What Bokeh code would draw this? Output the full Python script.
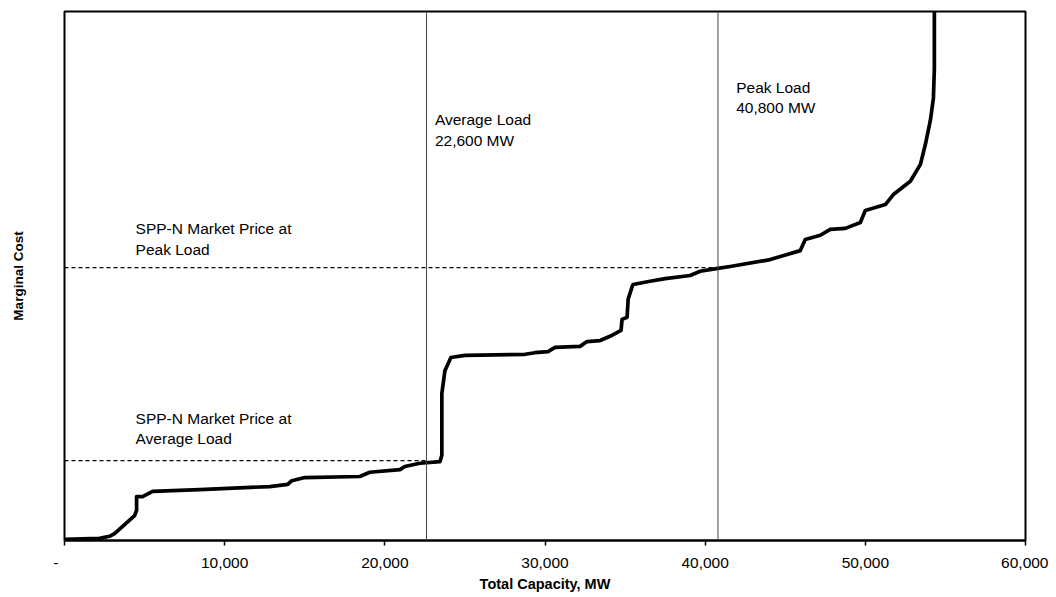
from bokeh.plotting import figure
from bokeh.models import Range1d, FixedTicker, Span, Label
from bokeh.embed import file_html
from bokeh.resources import INLINE

# Supply curve (Total capacity in MW vs marginal cost, arbitrary units 0-100)
capacity = [0, 2190, 2810, 3125, 3750, 4375, 4500, 4500, 4875, 5500, 8440, 12810,
            13940, 14190, 15000, 18440, 19060, 20940, 21250, 22190, 23440, 23560,
            23560, 23750, 24125, 25000, 28750, 29375, 30190, 30625, 32190, 32625,
            33440, 34060, 34375, 34750, 34810, 35125, 35190, 35440, 35500, 36560,
            37500, 39060, 39690, 40690, 41560, 44060, 45940, 46250, 47190, 47810,
            48750, 49690, 50000, 51250, 51750, 52810, 53440, 53750, 54060, 54250,
            54310, 54310]
marginal_cost = [0.2, 0.4, 0.8, 1.3, 3.0, 4.7, 5.7, 8.3, 8.3, 9.3, 9.6, 10.2,
                 10.6, 11.3, 11.9, 12.1, 12.9, 13.4, 14.0, 14.6, 14.9, 16.1,
                 27.8, 32.1, 34.6, 35.0, 35.2, 35.5, 35.7, 36.5, 36.7, 37.6,
                 37.8, 38.6, 39.1, 39.7, 41.8, 42.2, 45.6, 48.0, 48.4, 49.0,
                 49.5, 50.1, 50.9, 51.4, 51.8, 53.1, 54.8, 56.9, 57.7, 58.8,
                 59.0, 60.1, 62.4, 63.5, 65.4, 67.9, 71.1, 74.9, 79.4, 83.6,
                 89.2, 102.0]

average_load = 22600
peak_load = 40800
average_price = 15.1
peak_price = 51.6

x_ticks = [0, 10000, 20000, 30000, 40000, 50000, 60000]
x_tick_labels = ["-\u2007\u2007", "10,000", "20,000", "30,000", "40,000", "50,000", "60,000"]

FONT = "Liberation Sans"

p = figure(width=1048, height=594, output_backend="svg", toolbar_location=None,
           x_range=Range1d(0, 60000), y_range=Range1d(0, 100),
           min_border_left=64, min_border_right=23, min_border_top=11, min_border_bottom=54)
p.background_fill_color = "white"
p.border_fill_color = "white"
p.outline_line_color = "black"
p.outline_line_width = 2
p.grid.visible = False

# x axis
p.xaxis.ticker = FixedTicker(ticks=x_ticks)
p.xaxis.major_label_overrides = {t: l for t, l in zip(x_ticks, x_tick_labels)}
p.xaxis.minor_tick_line_color = None
p.xaxis.major_tick_out = 5
p.xaxis.major_tick_in = 0
p.xaxis.major_tick_line_color = "black"
p.xaxis.major_tick_line_width = 1.5
p.xaxis.axis_line_color = "black"
p.xaxis.axis_line_width = 2
p.xaxis.major_label_text_font = FONT
p.xaxis.major_label_text_font_size = "15.5px"
p.xaxis.major_label_text_color = "black"
p.xaxis.major_label_standoff = 8
p.xaxis.axis_label = "Total Capacity, MW"
p.xaxis.axis_label_text_font = FONT
p.xaxis.axis_label_text_font_style = "bold"
p.xaxis.axis_label_text_font_size = "14.5px"
p.xaxis.axis_label_text_color = "black"
p.xaxis.axis_label_standoff = 2

# y axis (no ticks)
p.yaxis.ticker = FixedTicker(ticks=[])
p.yaxis.minor_tick_line_color = None
p.yaxis.major_tick_line_color = None
p.yaxis.axis_line_color = None
p.yaxis.axis_label = "Marginal Cost"
p.yaxis.axis_label_text_font = FONT
p.yaxis.axis_label_text_font_style = "bold"
p.yaxis.axis_label_text_font_size = "13.5px"
p.yaxis.axis_label_text_color = "black"
p.yaxis.axis_label_standoff = 39

# load lines
for xl in (average_load, peak_load):
    p.add_layout(Span(location=xl, dimension="height", line_color="#444444", line_width=1))

# market price dashed lines
p.segment(x0=[0, 0], y0=[average_price, peak_price],
          x1=[average_load, peak_load], y1=[average_price, peak_price],
          line_color="black", line_width=1.3, line_dash="4 3")

# supply curve
p.line(capacity, marginal_cost, line_color="black", line_width=3.7, line_join="round")

labels = [
    ("Average Load", 23125, 79.5),
    ("22,600 MW", 23125, 75.7),
    ("Peak Load", 41937, 85.6),
    ("40,800 MW", 41937, 81.8),
    ("SPP-N Market Price at", 4437, 58.9),
    ("Peak Load", 4437, 55.1),
    ("SPP-N Market Price at", 4437, 23.1),
    ("Average Load", 4437, 19.3),
]
for txt, lx, ly in labels:
    p.add_layout(Label(x=lx, y=ly, text=txt, text_font=FONT, text_font_size="15.5px",
                       text_color="black", text_baseline="alphabetic", text_align="left"))

open("out.html", "w").write(file_html(p, INLINE))
